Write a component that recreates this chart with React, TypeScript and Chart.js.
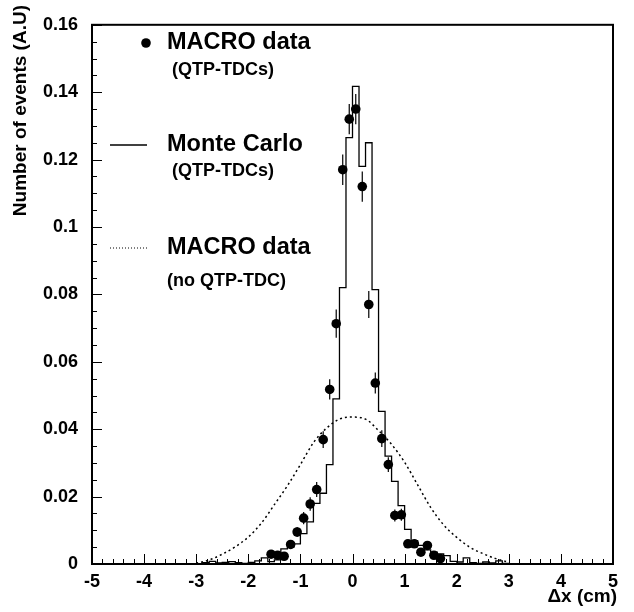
import React, { useEffect, useRef } from 'react';
import { Chart, registerables } from 'chart.js';

Chart.register(...registerables);

const FONT = '"Liberation Sans", Arial, Helvetica, sans-serif';

// Axis tick labels
const xTickValues = [-5, -4, -3, -2, -1, 0, 1, 2, 3, 4, 5];
const yTickValues = [0, 0.02, 0.04, 0.06, 0.08, 0.1, 0.12, 0.14, 0.16];
const yTickLabels = ['0', '0.02', '0.04', '0.06', '0.08', '0.1', '0.12', '0.14', '0.16'];

// MACRO data (QTP-TDCs): bin centres, values, errors
const dataX = [
  -1.5625, -1.4375, -1.3125, -1.1875, -1.0625, -0.9375, -0.8125, -0.6875, -0.5625,
  -0.4375, -0.3125, -0.1875, -0.0625, 0.0625, 0.1875, 0.3125, 0.4375, 0.5625,
  0.6875, 0.8125, 0.9375, 1.0625, 1.1875, 1.3125, 1.4375, 1.5625, 1.6875,
];
const dataY = [
  0.0029, 0.0026, 0.0023, 0.0058, 0.0095, 0.0136, 0.0178, 0.0221, 0.0369,
  0.0518, 0.0713, 0.117, 0.132, 0.135, 0.112, 0.077, 0.0537, 0.0372,
  0.0295, 0.0144, 0.0146, 0.006, 0.006, 0.0035, 0.0055, 0.0026, 0.0016,
];
const dataErr = [
  0.0008, 0.0008, 0.0008, 0.0012, 0.0015, 0.0018, 0.002, 0.0022, 0.0025,
  0.003, 0.0042, 0.0045, 0.0045, 0.0045, 0.0045, 0.004, 0.0031, 0.0025,
  0.0022, 0.0018, 0.0018, 0.0012, 0.0012, 0.0009, 0.0011, 0.0008, 0.0007,
];

// Monte Carlo (QTP-TDCs) histogram: bin lower edges and contents
const mcBinWidth = 0.125;
const mcBinLow = [
  -3.0, -2.875, -2.75, -2.625, -2.5, -2.375, -2.25, -2.125, -2.0, -1.875, -1.75, -1.625,
  -1.5, -1.375, -1.25, -1.125, -1.0, -0.875, -0.75, -0.625, -0.5, -0.375, -0.25, -0.125,
  0.0, 0.125, 0.25, 0.375, 0.5, 0.625, 0.75, 0.875, 1.0, 1.125, 1.25, 1.375,
  1.5, 1.625, 1.75, 1.875, 2.0, 2.125, 2.25, 2.375, 2.5, 2.625, 2.75, 2.875,
];
const mcValues = [
  0.0, 0.0004, 0.0008, 0.0003, 0.0005, 0.0007, 0.0004, 0.0002, 0.0005, 0.0009, 0.0018, 0.0007,
  0.0012, 0.0045, 0.005, 0.006, 0.009, 0.0125, 0.018, 0.021, 0.0295, 0.049, 0.082, 0.1265,
  0.1417, 0.118, 0.125, 0.0814, 0.0453, 0.032, 0.0245, 0.0173, 0.0103, 0.0069, 0.0055, 0.0042,
  0.0035, 0.003, 0.0025, 0.0008, 0.0006, 0.0018, 0.0004, 0.0002, 0.0006, 0.0003, 0.0009, 0.0002,
];

// MACRO data (no QTP-TDC): dotted curve
const noQtpX = [
  -3.0, -2.75, -2.5, -2.25, -2.0, -1.75, -1.5, -1.25, -1.0, -0.75, -0.5, -0.25, 0,
  0.25, 0.5, 0.75, 1.0, 1.25, 1.5, 1.75, 2.0, 2.25, 2.5, 2.75, 3.0,
];
const noQtpY = [
  0.0002, 0.0012, 0.0029, 0.0051, 0.008, 0.0121, 0.0176, 0.0232, 0.0295, 0.036, 0.0403, 0.043, 0.0436,
  0.043, 0.0396, 0.0355, 0.0302, 0.0235, 0.0168, 0.0116, 0.0079, 0.005, 0.0031, 0.0016, 0.0005,
];

const rootPlugin = {
  id: 'rootStyle',
  afterDatasetsDraw(chart: any) {
    const { ctx, chartArea: a, scales } = chart;
    const xs = scales.x;
    const ys = scales.y;
    ctx.save();
    ctx.strokeStyle = '#000';
    ctx.fillStyle = '#000';

    // error bars
    ctx.lineWidth = 1.2;
    dataX.forEach((x, i) => {
      const px = xs.getPixelForValue(x);
      ctx.beginPath();
      ctx.moveTo(px, ys.getPixelForValue(dataY[i] - dataErr[i]));
      ctx.lineTo(px, ys.getPixelForValue(dataY[i] + dataErr[i]));
      ctx.stroke();
    });

    // inward tick marks
    ctx.lineWidth = 1;
    for (let k = 0; k <= 50; k++) {
      const v = -5 + k * 0.2;
      const px = Math.round(xs.getPixelForValue(v)) + 0.5;
      const len = k % 5 === 0 ? 10 : 5;
      ctx.beginPath();
      ctx.moveTo(px, a.bottom);
      ctx.lineTo(px, a.bottom - len);
      ctx.stroke();
    }
    for (let k = 0; k <= 32; k++) {
      const v = k * 0.005;
      const py = Math.round(ys.getPixelForValue(v)) + 0.5;
      const len = k % 4 === 0 ? 10 : 5;
      ctx.beginPath();
      ctx.moveTo(a.left, py);
      ctx.lineTo(a.left + len, py);
      ctx.stroke();
    }

    // frame
    ctx.lineWidth = 2;
    ctx.strokeRect(a.left, a.top, a.right - a.left, a.bottom - a.top);

    // legend
    const big = `bold 23.5px ${FONT}`;
    const small = `bold 18px ${FONT}`;
    ctx.textAlign = 'left';
    ctx.textBaseline = 'middle';
    ctx.beginPath();
    ctx.arc(146, 43, 4.8, 0, Math.PI * 2);
    ctx.fill();
    ctx.font = big;
    ctx.fillText('MACRO data', 167, 43);
    ctx.font = small;
    ctx.fillText('(QTP-TDCs)', 172, 70);

    ctx.lineWidth = 1.3;
    ctx.beginPath();
    ctx.moveTo(110, 145);
    ctx.lineTo(147, 145);
    ctx.stroke();
    ctx.font = big;
    ctx.fillText('Monte Carlo', 167, 145);
    ctx.font = small;
    ctx.fillText('(QTP-TDCs)', 172, 171);

    ctx.lineWidth = 1;
    ctx.setLineDash([1, 2]);
    ctx.beginPath();
    ctx.moveTo(110, 248);
    ctx.lineTo(147, 248);
    ctx.stroke();
    ctx.setLineDash([]);
    ctx.font = big;
    ctx.fillText('MACRO data', 167, 248);
    ctx.font = small;
    ctx.fillText('(no QTP-TDC)', 167, 281);

    // axis titles
    ctx.font = `bold 19px ${FONT}`;
    ctx.textAlign = 'right';
    ctx.fillText('\u0394x (cm)', 617, 597);
    ctx.save();
    ctx.translate(21, 5);
    ctx.rotate(-Math.PI / 2);
    ctx.font = `bold 19px ${FONT}`;
    ctx.textAlign = 'right';
    ctx.fillText('Number of events (A.U)', 0, 0);
    ctx.restore();

    ctx.restore();
  },
};

export default function App() {
  const ref = useRef<HTMLCanvasElement | null>(null);

  useEffect(() => {
    if (!ref.current) return;
    const mcPoints = [
      { x: mcBinLow[0], y: 0 },
      ...mcBinLow.map((x, i) => ({ x, y: mcValues[i] })),
      { x: mcBinLow[mcBinLow.length - 1] + mcBinWidth, y: mcValues[mcValues.length - 1] },
      { x: mcBinLow[mcBinLow.length - 1] + mcBinWidth, y: 0 },
    ];
    const chart = new Chart(ref.current, {
      type: 'scatter',
      data: {
        datasets: [
          {
            type: 'line',
            label: 'MACRO data (no QTP-TDC)',
            data: noQtpX.map((x, i) => ({ x, y: noQtpY[i] })),
            borderColor: '#000',
            borderWidth: 1.5,
            borderDash: [2, 3],
            pointRadius: 0,
            cubicInterpolationMode: 'monotone',
            fill: false,
          } as any,
          {
            type: 'line',
            label: 'Monte Carlo (QTP-TDCs)',
            data: mcPoints,
            borderColor: '#000',
            borderWidth: 1.3,
            stepped: 'before',
            pointRadius: 0,
            fill: false,
          } as any,
          {
            type: 'scatter',
            label: 'MACRO data (QTP-TDCs)',
            data: dataX.map((x, i) => ({ x, y: dataY[i] })),
            backgroundColor: '#000',
            borderColor: '#000',
            pointRadius: 4.8,
            pointBorderWidth: 0,
          } as any,
        ],
      },
      options: {
        responsive: false,
        animation: false,
        devicePixelRatio: 1,
        layout: { padding: { left: 0, right: 21, top: 9, bottom: 0 } },
        plugins: { legend: { display: false }, tooltip: { enabled: false } },
        scales: {
          x: {
            type: 'linear',
            min: -5,
            max: 5,
            grid: { display: false, drawTicks: false },
            border: { display: false },
            afterBuildTicks: (s: any) => {
              s.ticks = xTickValues.map((v) => ({ value: v }));
            },
            afterFit: (s: any) => {
              s.height = 48;
            },
            ticks: {
              padding: 7,
              color: '#000',
              font: { family: FONT, size: 18, weight: 'bold' },
              callback: (v: any) => String(v),
              maxRotation: 0,
            },
          },
          y: {
            type: 'linear',
            min: 0,
            max: 0.16,
            grid: { display: false, drawTicks: false },
            border: { display: false },
            afterBuildTicks: (s: any) => {
              s.ticks = yTickValues.map((v) => ({ value: v }));
            },
            afterFit: (s: any) => {
              s.width = 92;
            },
            ticks: {
              padding: 14,
              color: '#000',
              font: { family: FONT, size: 18, weight: 'bold' },
              callback: (v: any) => {
                const i = yTickValues.findIndex((t) => Math.abs(t - v) < 1e-9);
                return i >= 0 ? yTickLabels[i] : '';
              },
            },
          },
        },
      },
      plugins: [rootPlugin],
    });
    return () => chart.destroy();
  }, []);

  return (
    <div style={{ position: 'fixed', left: 0, top: 0, width: 634, height: 612, background: '#fff' }}>
      <canvas ref={ref} width={634} height={612} style={{ display: 'block', width: 634, height: 612 }} />
    </div>
  );
}
